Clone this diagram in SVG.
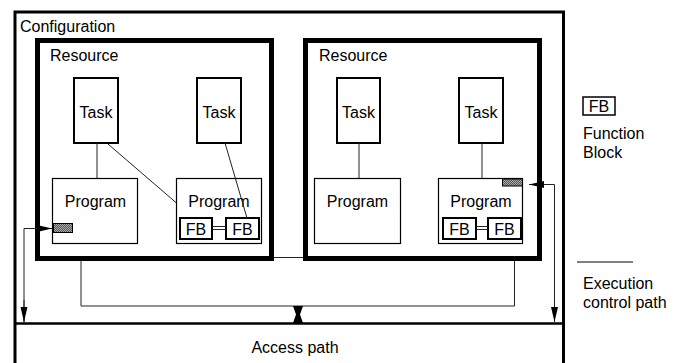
<svg xmlns="http://www.w3.org/2000/svg" width="684" height="363" viewBox="0 0 684 363">
<defs>
<style>
text{font-family:"Liberation Sans",Arial,sans-serif;font-size:16px;fill:#000}
.c{text-anchor:middle}
.cfg{fill:none;stroke:#000;stroke-width:3}
.res{fill:none;stroke:#000;stroke-width:5}
.task{fill:#fff;stroke:#000;stroke-width:2}
.prog{fill:#fff;stroke:#000;stroke-width:1.2}
.fb{fill:#fff;stroke:#000;stroke-width:2}
.ln{fill:none;stroke:#222;stroke-width:1}
.dbl{fill:none;stroke:#222;stroke-width:1.2}
.hatch{fill:url(#chk);stroke:#000;stroke-width:1}
</style>
<pattern id="chk" width="2" height="2" patternUnits="userSpaceOnUse"><rect width="2" height="2" fill="#555"/><rect width="1" height="1" fill="#aaa"/><rect x="1" y="1" width="1" height="1" fill="#aaa"/></pattern>
<marker id="ah" markerWidth="15" markerHeight="8" refX="15" refY="4" orient="auto" markerUnits="userSpaceOnUse"><path d="M0,0.5 L15,4 L0,7.5z" fill="#000"/></marker>
</defs>

<g id="configuration">
<path class="cfg" d="M15,370 V12 H563.5 V370"/>
<text x="20" y="32">Configuration</text>
</g>

<g id="access-path">
<line x1="15" y1="323.5" x2="563.5" y2="323.5" stroke="#000" stroke-width="2.5"/>
<text class="c" x="295" y="353">Access path</text>
</g>

<g id="bus">
<path class="ln" d="M81,257.5 V306 H514.5 V257.5 Z"/>
</g>

<g id="resource1">
<rect class="res" x="37.5" y="40.5" width="234" height="218"/>
<text x="50" y="61">Resource</text>
</g>
<g id="resource2">
<rect class="res" x="305.5" y="40.5" width="234" height="218"/>
<text x="319" y="61">Resource</text>
</g>

<g id="r1-task1"><rect class="task" x="74" y="78" width="44" height="65"/><text class="c" x="96" y="118">Task</text></g>
<g id="r1-task2"><rect class="task" x="197" y="78" width="44" height="65"/><text class="c" x="219" y="118">Task</text></g>
<g id="r2-task1"><rect class="task" x="337" y="78" width="43" height="65"/><text class="c" x="358.5" y="118">Task</text></g>
<g id="r2-task2"><rect class="task" x="459" y="78" width="44" height="65"/><text class="c" x="481" y="118">Task</text></g>

<g id="r1-program1"><rect class="prog" x="52.5" y="178.5" width="85" height="65"/><text class="c" x="95.5" y="207">Program</text>
<rect class="hatch" x="53.5" y="223.5" width="19" height="9"/></g>
<g id="r1-program2"><rect class="prog" x="176.5" y="178.5" width="85" height="65"/><text class="c" x="219" y="207">Program</text>
<g id="r1-fb1"><rect class="fb" x="180" y="218" width="32" height="21"/><text class="c" x="196" y="234.5">FB</text></g>
<g id="r1-fb2"><rect class="fb" x="226" y="218" width="33" height="21"/><text class="c" x="242.5" y="234.5">FB</text></g>
</g>
<g id="r2-program1"><rect class="prog" x="314.5" y="178.5" width="86" height="65"/><text class="c" x="357.5" y="207">Program</text></g>
<g id="r2-program2"><rect class="prog" x="438.5" y="178.5" width="84" height="65"/><text class="c" x="481" y="207">Program</text>
<rect class="hatch" x="502.5" y="179" width="20" height="7"/>
<g id="r2-fb1"><rect class="fb" x="443" y="218" width="33" height="21"/><text class="c" x="459.5" y="234.5">FB</text></g>
<g id="r2-fb2"><rect class="fb" x="488" y="218" width="33" height="21"/><text class="c" x="504.5" y="234.5">FB</text></g>
</g>

<g id="connectors">
<line class="ln" x1="97" y1="143" x2="97" y2="178"/>
<line class="ln" x1="108" y1="144" x2="176.5" y2="203"/>
<line class="ln" x1="225" y1="143" x2="247" y2="218"/>
<line class="ln" x1="359" y1="143" x2="359" y2="178"/>
<line class="ln" x1="482" y1="143" x2="482" y2="178"/>
<path class="dbl" d="M212,226.5 H226 M212,229.5 H226"/>
<path class="dbl" d="M476,226.5 H488 M476,229.5 H488"/>
<path class="ln" d="M24,322 V228.5 H52" marker-end="url(#ah)"/>
<line class="ln" x1="24" y1="300" x2="24" y2="322" marker-end="url(#ah)"/>
<path class="ln" d="M554.5,322 V184.5 H529" marker-end="url(#ah)"/>
<line class="ln" x1="554.5" y1="300" x2="554.5" y2="322" marker-end="url(#ah)"/>
<polygon points="293,306 303,306 300,314.5 303,323 293,323 296,314.5" fill="#000"/>
</g>

<g id="legend">
<rect x="583" y="97" width="32" height="18" fill="none" stroke="#000" stroke-width="1.5"/>
<text class="c" x="599" y="112">FB</text>
<text x="583" y="139">Function</text>
<text x="583" y="158">Block</text>
<line x1="577" y1="262" x2="633" y2="262" stroke="#000" stroke-width="1"/>
<text x="583" y="289">Execution</text>
<text x="583" y="308">control path</text>
</g>
</svg>
